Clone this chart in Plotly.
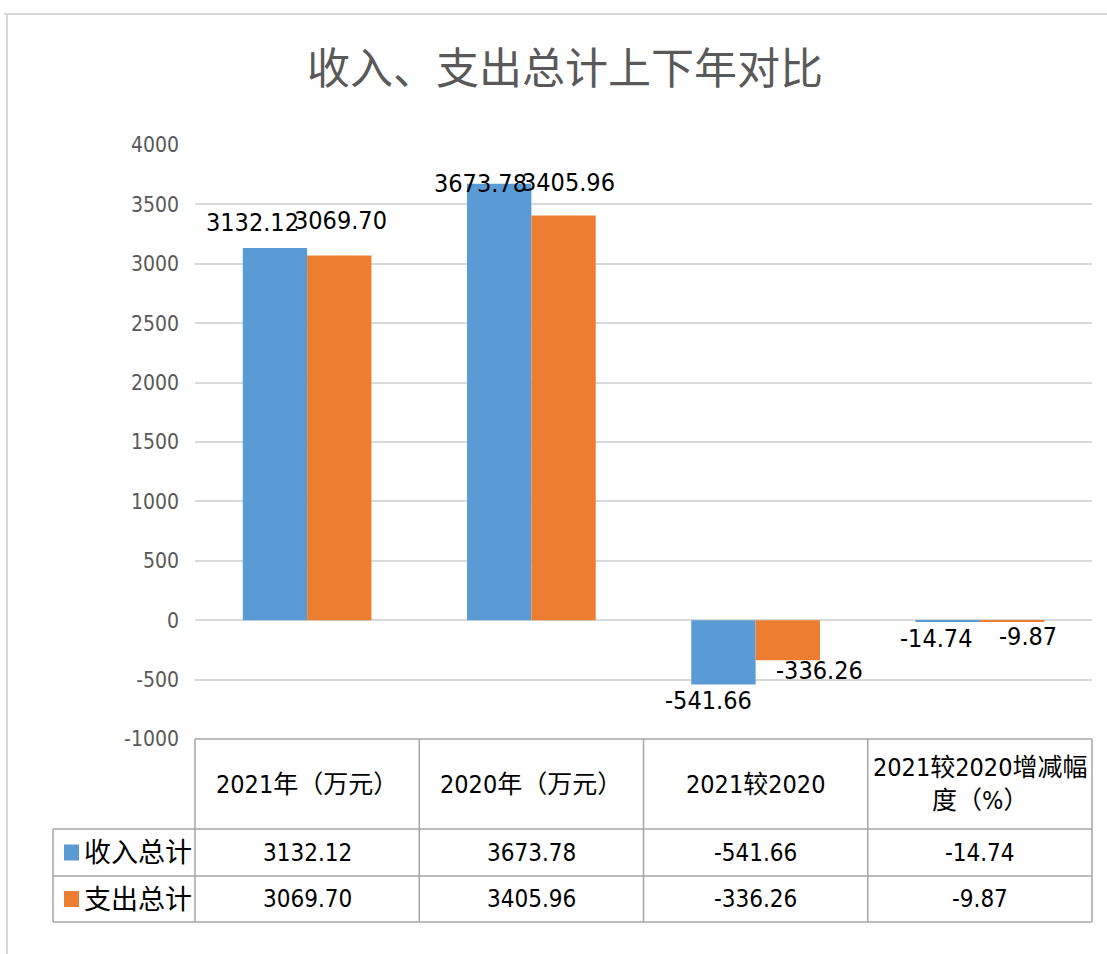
import plotly.graph_objects as go

categories = ["2021年（万元）", "2020年（万元）", "2021较2020", "2021较2020增减幅<br>度（%）"]
series_names = ["收入总计", "支出总计"]
income = [3132.12, 3673.78, -541.66, -14.74]
expense = [3069.70, 3405.96, -336.26, -9.87]
income_labels = ["3132.12", "3673.78", "-541.66", "-14.74"]
expense_labels = ["3069.70", "3405.96", "-336.26", "-9.87"]
y_ticks = [4000, 3500, 3000, 2500, 2000, 1500, 1000, 500, 0, -500, -1000]

# label placement offsets in pixels (style only), as in the reference
income_label_shift = [(-22, 26), (-19, 0), (-15, -16), (-11, -17)]
expense_label_shift = [(1, 35), (5, 33), (32, -10), (16, -15)]

COLORS = ["#5b9bd5", "#ed7d31"]
FONT = "Liberation Sans Narrow, DejaVu Sans Condensed, Noto Sans, Noto Sans CJK SC, sans-serif"

W, H = 1107, 954
L, R, T, B = 195, 1092, 145, 739
BAR_OFF = 0.1435


def px_x(px):
    return (px - L) / (R - L)


def px_y(py):
    return (B - py) / (B - T)


x_idx = list(range(len(categories)))

fig = go.Figure()
for name, vals, color in [
    (series_names[0], income, COLORS[0]),
    (series_names[1], expense, COLORS[1]),
]:
    fig.add_trace(go.Bar(
        x=x_idx, y=vals, name=name, marker=dict(color=color, line=dict(width=0)),
        hoverinfo="x+y+name",
    ))

annotations = []
for vals, labels, shifts, off in [
    (income, income_labels, income_label_shift, -BAR_OFF),
    (expense, expense_labels, expense_label_shift, BAR_OFF),
]:
    for i, (v, lab, (dx, dy)) in enumerate(zip(vals, labels, shifts)):
        annotations.append(dict(text=lab, x=i + off, y=v, xref="x", yref="y",
                                xanchor="center", yanchor="middle", xshift=dx, yshift=dy,
                                showarrow=False,
                                font=dict(size=25, color="#000000", family=FONT)))

shapes = []
line_col = "#a6a6a6"
# outer chart border (top and left)
shapes.append(dict(type="line", xref="paper", yref="paper", x0=px_x(4), x1=px_x(1107),
                   y0=px_y(14), y1=px_y(14), line=dict(color="#d9d9d9", width=2)))
shapes.append(dict(type="line", xref="paper", yref="paper", x0=px_x(7), x1=px_x(7),
                   y0=px_y(14), y1=px_y(954), line=dict(color="#d9d9d9", width=2)))

# table geometry
row_y = [739, 829, 876, 922]
col_x = [L + i * (R - L) / 4 for i in range(5)]
left_x = 53
shapes.append(dict(type="line", xref="paper", yref="paper", x0=px_x(L), x1=px_x(R),
                   y0=px_y(row_y[0]), y1=px_y(row_y[0]), line=dict(color=line_col, width=1.5)))
for ry in row_y[1:]:
    shapes.append(dict(type="line", xref="paper", yref="paper", x0=px_x(left_x), x1=px_x(R),
                       y0=px_y(ry), y1=px_y(ry), line=dict(color=line_col, width=1.5)))
for cx in col_x:
    shapes.append(dict(type="line", xref="paper", yref="paper", x0=px_x(cx), x1=px_x(cx),
                       y0=px_y(row_y[0]), y1=px_y(row_y[3]), line=dict(color=line_col, width=1.5)))
shapes.append(dict(type="line", xref="paper", yref="paper", x0=px_x(left_x), x1=px_x(left_x),
                   y0=px_y(row_y[1]), y1=px_y(row_y[3]), line=dict(color=line_col, width=1.5)))

# title
annotations.append(dict(text="收入、支出总计上下年对比", xref="paper", yref="paper",
                        x=px_x(565), y=px_y(69), xanchor="center", yanchor="middle",
                        showarrow=False, font=dict(size=43, color="#595959", family=FONT)))
# header cells
for i, c in enumerate(categories):
    annotations.append(dict(text=c, xref="paper", yref="paper",
                            x=px_x((col_x[i] + col_x[i + 1]) / 2), y=px_y((row_y[0] + row_y[1]) / 2),
                            xanchor="center", yanchor="middle", showarrow=False,
                            font=dict(size=25, color="#000000", family=FONT)))
# rows
for r, (name, labels, color) in enumerate([
    (series_names[0], income_labels, COLORS[0]),
    (series_names[1], expense_labels, COLORS[1]),
]):
    cy = (row_y[r + 1] + row_y[r + 2]) / 2
    shapes.append(dict(type="rect", xref="paper", yref="paper", x0=px_x(64), x1=px_x(79),
                       y0=px_y(cy - 8), y1=px_y(cy + 8), fillcolor=color, line=dict(width=0)))
    annotations.append(dict(text=name, xref="paper", yref="paper", x=px_x(82), y=px_y(cy),
                            xanchor="left", yanchor="middle", showarrow=False,
                            font=dict(size=27, color="#000000", family=FONT)))
    for i, lab in enumerate(labels):
        annotations.append(dict(text=lab, xref="paper", yref="paper",
                                x=px_x((col_x[i] + col_x[i + 1]) / 2), y=px_y(cy),
                                xanchor="center", yanchor="middle", showarrow=False,
                                font=dict(size=24, color="#000000", family=FONT)))

fig.update_layout(
    width=W, height=H,
    margin=dict(l=L, r=W - R, t=T, b=H - B, pad=0),
    paper_bgcolor="white", plot_bgcolor="white",
    barmode="group", bargap=0.426, bargroupgap=0,
    showlegend=False,
    shapes=shapes, annotations=annotations,
    font=dict(family=FONT),
)
fig.update_xaxes(range=[-0.5, 3.5], showticklabels=False, showgrid=False, zeroline=False,
                 showline=False, ticks="")
fig.update_yaxes(range=[-1000, 4000], tickvals=y_ticks, ticktext=[str(v) for v in y_ticks],
                 showgrid=True, gridcolor="#d9d9d9", gridwidth=1.5, zeroline=True,
                 zerolinecolor="#d9d9d9", zerolinewidth=1.5, showline=False,
                 tickfont=dict(size=21, color="#595959", family=FONT), ticks="",
                 ticklabelstandoff=15)

fig.write_html("out.html", config={"displayModeBar": False},
               post_script="document.body.style.margin='0';")
